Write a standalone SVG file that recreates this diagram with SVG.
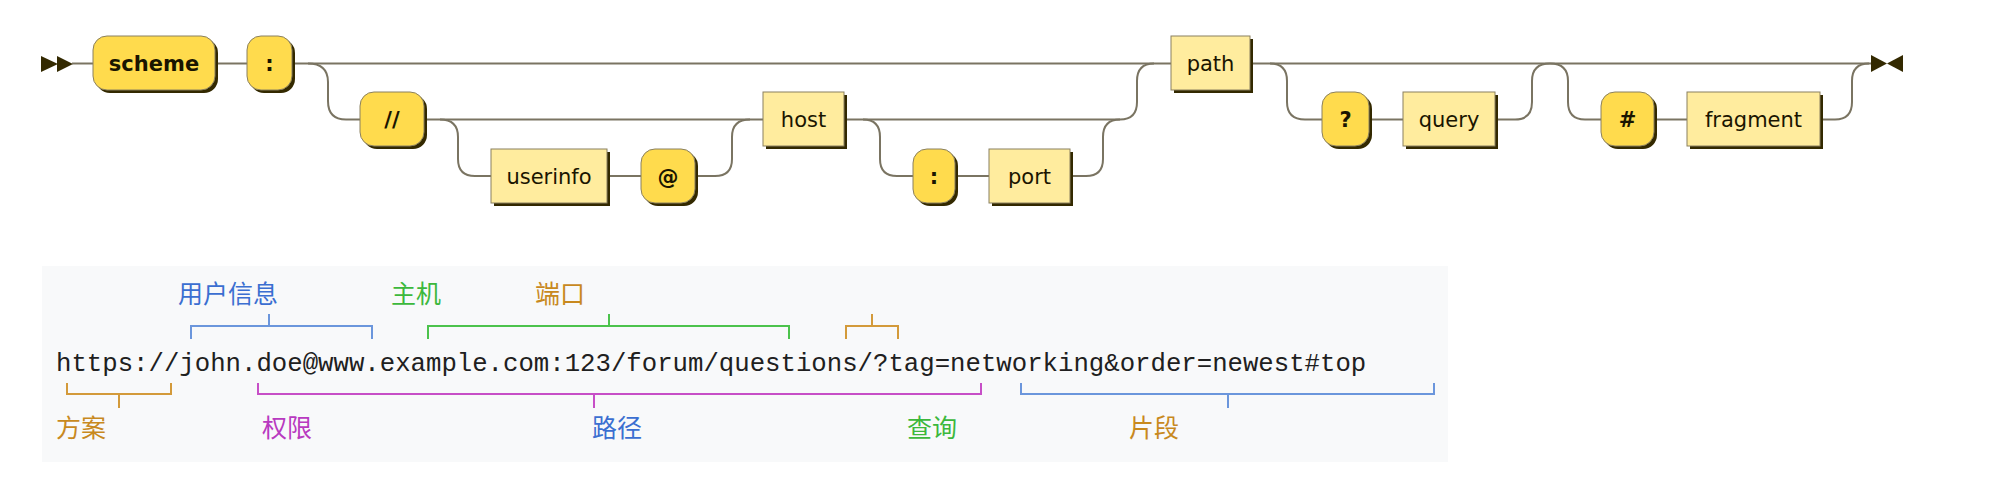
<svg xmlns="http://www.w3.org/2000/svg" width="2012" height="488" viewBox="0 0 2012 488">
<defs>
<style>
.line{fill:none;stroke:#7a7462;stroke-width:2}
.arrow{fill:#332900;stroke:none}
.shadow{fill:#332900;stroke:none}
.term{fill:#FFDB4D;stroke:#8a8060;stroke-width:1}
.nonterm{fill:#FFEC9E;stroke:#8a8060;stroke-width:1}
.tt{font-family:"DejaVu Sans",Verdana,sans-serif;font-size:21px;font-weight:bold;fill:#1a1500;text-anchor:middle}
.nt{font-family:"DejaVu Sans",Verdana,sans-serif;font-size:21px;fill:#1a1500;text-anchor:middle}
.url{font-family:"Liberation Mono","Courier New",monospace;font-size:25.7px;fill:#202020}
.lbl{font-family:"Noto Sans CJK SC",sans-serif;font-size:25px}
.br{fill:none;stroke-width:2}
</style>
</defs>
<rect width="2012" height="488" fill="#ffffff"/>

<g id="connectors">
<polygon class="arrow" points="41,56 58,64 41,72"/>
<polygon class="arrow" points="57,56 73,64 57,72"/>
<path class="line" d="M72 63.5 H93"/>
<path class="line" d="M218 63.5 H247"/>
<path class="line" d="M295 63.5 H1171"/>
<path class="line" d="M308 63.5 Q328 63.5 328 82 V101 Q328 119.5 346 119.5 H360"/>
<path class="line" d="M427 119.5 H763"/>
<path class="line" d="M440 119.5 Q458 119.5 458 137 V159 Q458 176 475 176 H491"/>
<path class="line" d="M610 176 H641"/>
<path class="line" d="M698 176 H715 Q732 176 732 159 V137 Q732 119.5 750 119.5"/>
<path class="line" d="M847 119.5 H1120 Q1137 119.5 1137 102 V81 Q1137 63.5 1154 63.5"/>
<path class="line" d="M863 119.5 Q880 119.5 880 137 V159 Q880 176 897 176 H913"/>
<path class="line" d="M958 176 H989"/>
<path class="line" d="M1073 176 H1086 Q1103 176 1103 159 V137 Q1103 119.5 1120 119.5"/>
<path class="line" d="M1253 63.5 H1871"/>
<path class="line" d="M1270 63.5 Q1287 63.5 1287 81 V102 Q1287 119.5 1305 119.5 H1322"/>
<path class="line" d="M1372 119.5 H1403"/>
<path class="line" d="M1498 119.5 H1515 Q1532 119.5 1532 102 V81 Q1532 63.5 1550 63.5"/>
<path class="line" d="M1550 63.5 Q1568 63.5 1568 81 V102 Q1568 119.5 1585 119.5 H1601"/>
<path class="line" d="M1657 119.5 H1687"/>
<path class="line" d="M1823 119.5 H1835 Q1852 119.5 1852 102 V81 Q1852 63.5 1869 63.5"/>
<polygon class="arrow" points="1871,55 1887,63.5 1871,72"/>
<polygon class="arrow" points="1903,55 1887,63.5 1903,72"/>
</g>

<g id="node-scheme">
<rect class="shadow" x="96" y="39" width="122" height="54" rx="14"/>
<rect class="term" x="93" y="36" width="122" height="54" rx="14"/>
<text class="tt" x="154" y="71">scheme</text>
</g>
<g id="node-colon1">
<rect class="shadow" x="250" y="39" width="45" height="54" rx="14"/>
<rect class="term" x="247" y="36" width="45" height="54" rx="14"/>
<text class="tt" x="269.5" y="71">:</text>
</g>
<g id="node-slashes">
<rect class="shadow" x="363" y="95" width="64" height="54" rx="14"/>
<rect class="term" x="360" y="92" width="64" height="54" rx="14"/>
<text class="tt" x="392" y="127">//</text>
</g>
<g id="node-userinfo">
<rect class="shadow" x="494" y="152" width="116" height="54"/>
<rect class="nonterm" x="491" y="149" width="116" height="54"/>
<text class="nt" x="549" y="183.5">userinfo</text>
</g>
<g id="node-at">
<rect class="shadow" x="644" y="152" width="54" height="54" rx="14"/>
<rect class="term" x="641" y="149" width="54" height="54" rx="14"/>
<text class="tt" x="668" y="183.5">@</text>
</g>
<g id="node-host">
<rect class="shadow" x="766" y="95" width="81" height="54"/>
<rect class="nonterm" x="763" y="92" width="81" height="54"/>
<text class="nt" x="803.5" y="127">host</text>
</g>
<g id="node-colon2">
<rect class="shadow" x="916" y="152" width="42" height="54" rx="14"/>
<rect class="term" x="913" y="149" width="42" height="54" rx="14"/>
<text class="tt" x="934" y="183.5">:</text>
</g>
<g id="node-port">
<rect class="shadow" x="992" y="152" width="81" height="54"/>
<rect class="nonterm" x="989" y="149" width="81" height="54"/>
<text class="nt" x="1029.5" y="183.5">port</text>
</g>
<g id="node-path">
<rect class="shadow" x="1174" y="39" width="79" height="54"/>
<rect class="nonterm" x="1171" y="36" width="79" height="54"/>
<text class="nt" x="1210.5" y="71">path</text>
</g>
<g id="node-qmark">
<rect class="shadow" x="1325" y="95" width="47" height="54" rx="14"/>
<rect class="term" x="1322" y="92" width="47" height="54" rx="14"/>
<text class="tt" x="1345.5" y="127">?</text>
</g>
<g id="node-query">
<rect class="shadow" x="1406" y="95" width="92" height="54"/>
<rect class="nonterm" x="1403" y="92" width="92" height="54"/>
<text class="nt" x="1449" y="127">query</text>
</g>
<g id="node-hash">
<rect class="shadow" x="1604" y="95" width="53" height="54" rx="14"/>
<rect class="term" x="1601" y="92" width="53" height="54" rx="14"/>
<text class="tt" x="1627.5" y="127">#</text>
</g>
<g id="node-fragment">
<rect class="shadow" x="1690" y="95" width="133" height="54"/>
<rect class="nonterm" x="1687" y="92" width="133" height="54"/>
<text class="nt" x="1753.5" y="127">fragment</text>
</g>

<g id="url-example">
<rect x="42" y="266" width="1406" height="196" fill="#f8f9fa"/>
<text class="url" x="56" y="371">https://john.doe@www.example.com:123/forum/questions/?tag=networking&amp;order=newest#top</text>
<g id="brackets">
<path class="br" stroke="#6b96dc" d="M191 339 V326 H372 V339 M269 326 V314"/>
<path class="br" stroke="#4cc34c" d="M428 339 V326 H789 V339 M609 326 V314"/>
<path class="br" stroke="#d39a3a" d="M846 339 V326 H898 V339 M872 326 V314"/>
<path class="br" stroke="#d39a3a" d="M67 383 V394 H171 V383 M119 394 V408"/>
<path class="br" stroke="#c74fc7" d="M258 383 V394 H981 V383 M594 394 V408"/>
<path class="br" stroke="#6b96dc" d="M1021 383 V394 H1434 V383 M1228 394 V408"/>
</g>
<text class="lbl" x="178" y="303" fill="#3b6fd1">用户信息</text>
<text class="lbl" x="391" y="303" fill="#3cb83c">主机</text>
<text class="lbl" x="535" y="303" fill="#c8891e">端口</text>
<text class="lbl" x="56" y="437" fill="#c8891e">方案</text>
<text class="lbl" x="262" y="437" fill="#b83ac0">权限</text>
<text class="lbl" x="592" y="437" fill="#3b6fd1">路径</text>
<text class="lbl" x="907" y="437" fill="#3cb83c">查询</text>
<text class="lbl" x="1129" y="437" fill="#c8891e">片段</text>
</g>
</svg>
